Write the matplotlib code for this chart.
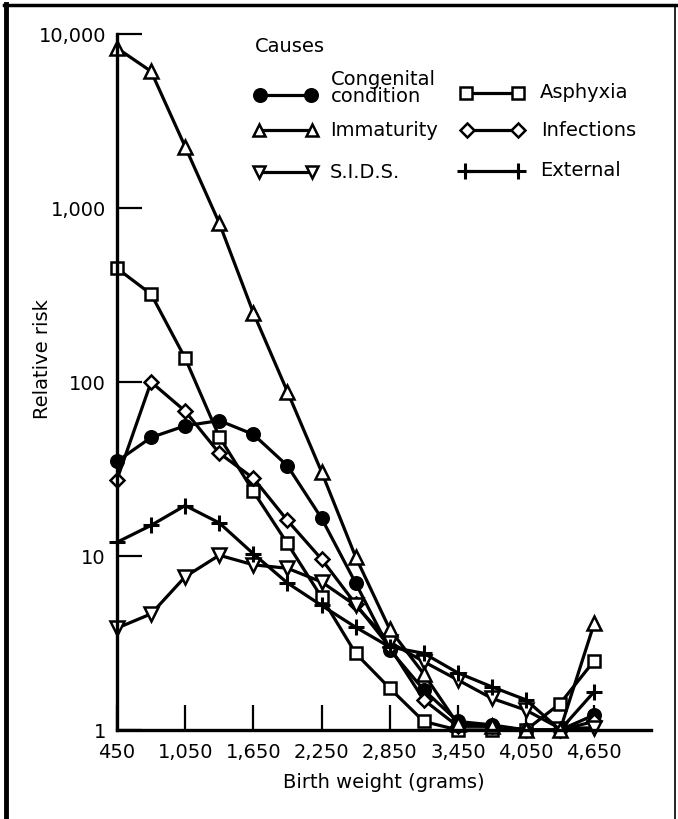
import numpy as np
import matplotlib.pyplot as plt
from matplotlib.lines import Line2D
from matplotlib.ticker import NullLocator

# data (relative risk by birth weight)
weights = [450, 750, 1050, 1350, 1650, 1950, 2250, 2550, 2850, 3150, 3450, 3750, 4050, 4350, 4650]

congenital = [35, 48, 56, 60, 50, 33, 16.5, 7.0, 2.9, 1.7, 1.12, 1.07, 1.0, 1.0, 1.22]
immaturity = [8300, 6100, 2250, 820, 250, 88, 30.5, 9.9, 3.8, 2.1, 1.08, 1.05, 1.0, 1.0, 4.1]
sids = [3.85, 4.65, 7.6, 10.1, 8.9, 8.5, 7.1, 5.2, 3.2, 2.47, 1.94, 1.52, 1.3, 1.02, 1.03]
asphyxia = [450, 320, 137, 48.5, 23.5, 11.8, 5.8, 2.76, 1.74, 1.12, 1.0, 1.0, 1.0, 1.42, 2.5]
infections = [27.5, 100, 68, 39, 28, 16, 9.6, 5.3, 3.0, 1.49, 1.05, 1.05, 1.0, 1.0, 1.12]
external = [12, 15, 19.5, 15.5, 10.3, 7.0, 5.2, 3.9, 3.0, 2.76, 2.13, 1.77, 1.49, 1.0, 1.66]

xticks = [450, 1050, 1650, 2250, 2850, 3450, 4050, 4650]
xticklabels = ['450', '1,050', '1,650', '2,250', '2,850', '3,450', '4,050', '4,650']
yticks = [1, 10, 100, 1000, 10000]
yticklabels = ['1', '10', '100', '1,000', '10,000']

W, H = 678, 819
fig = plt.figure(figsize=(W / 100, H / 100), dpi=100)


def fx(x):
    return x / W


def fy(y):
    return 1 - y / H


ax = fig.add_axes([fx(117), fy(730), fx(651) - fx(117), fy(34) - fy(730)])
ax.set_yscale('log')
ax.set_ylim(1, 10000)
ax.set_xlim(450, 5150)

lw = 2.3
styles = [
    (congenital, dict(marker='o', mfc='black', ms=9)),
    (asphyxia, dict(marker='s', mfc='white', ms=8.5)),
    (infections, dict(marker='D', mfc='white', ms=7.5)),
    (sids, dict(marker='v', mfc='white', ms=10)),
    (external, dict(marker='+', mfc='black', ms=12, mew=2.2)),
    (immaturity, dict(marker='^', mfc='white', ms=10)),
]
for vals, st in styles:
    kw = dict(color='black', lw=lw, mec='black', mew=1.8, clip_on=False)
    kw.update(st)
    ax.plot(weights, vals, **kw)

ax.set_yticks(yticks)
ax.set_yticklabels(yticklabels)
ax.yaxis.set_minor_locator(NullLocator())
ax.set_xticks(xticks)
ax.set_xticklabels(xticklabels)
ax.tick_params(axis='y', direction='in', length=18, width=1.6, pad=8, labelsize=14)
ax.tick_params(axis='x', direction='in', length=18, width=1.6, pad=9, labelsize=14)
for s in ['top', 'right']:
    ax.spines[s].set_visible(False)
for s in ['left', 'bottom']:
    ax.spines[s].set_linewidth(2.4)

ax.set_xlabel('Birth weight (grams)', fontsize=14, labelpad=8)
fig.text(fx(42), fy(359), 'Relative risk', rotation=90, fontsize=14,
         ha='center', va='center')

# legend drawn by hand
fig.text(fx(255), fy(47), 'Causes', fontsize=14, va='center')
leg = [
    (260, 311, 95, 'o', 'black', 9, 'Congenital\ncondition', 331, 88),
    (259, 312, 130, '^', 'white', 9, 'Immaturity', 330, 130),
    (259, 312, 172, 'v', 'white', 9, 'S.I.D.S.', 330, 172),
    (466, 518, 93, 's', 'white', 8, 'Asphyxia', 540, 93),
    (467, 518, 130, 'D', 'white', 7, 'Infections', 541, 130),
    (465, 518, 171, '+', 'black', 12, 'External', 540, 171),
]
for x0, x1, y, m, fc, ms, lab, tx, ty in leg:
    fig.add_artist(Line2D([fx(x0), fx(x1)], [fy(y), fy(y)], color='black', lw=lw,
                          marker=m, mfc=fc, mec='black', ms=ms,
                          mew=2.2 if m == '+' else 1.8))
    fig.text(fx(tx), fy(ty), lab, fontsize=14, va='center', linespacing=0.9)

# frame around the figure
fig.add_artist(Line2D([fx(6), fx(6)], [fy(4), 0], color='black', lw=3.5))
fig.add_artist(Line2D([fx(4), fx(676)], [fy(5), fy(5)], color='black', lw=2.5))
fig.add_artist(Line2D([fx(675), fx(675)], [fy(5), 0], color='black', lw=1.2))

fig.savefig('out.png', dpi=100)
